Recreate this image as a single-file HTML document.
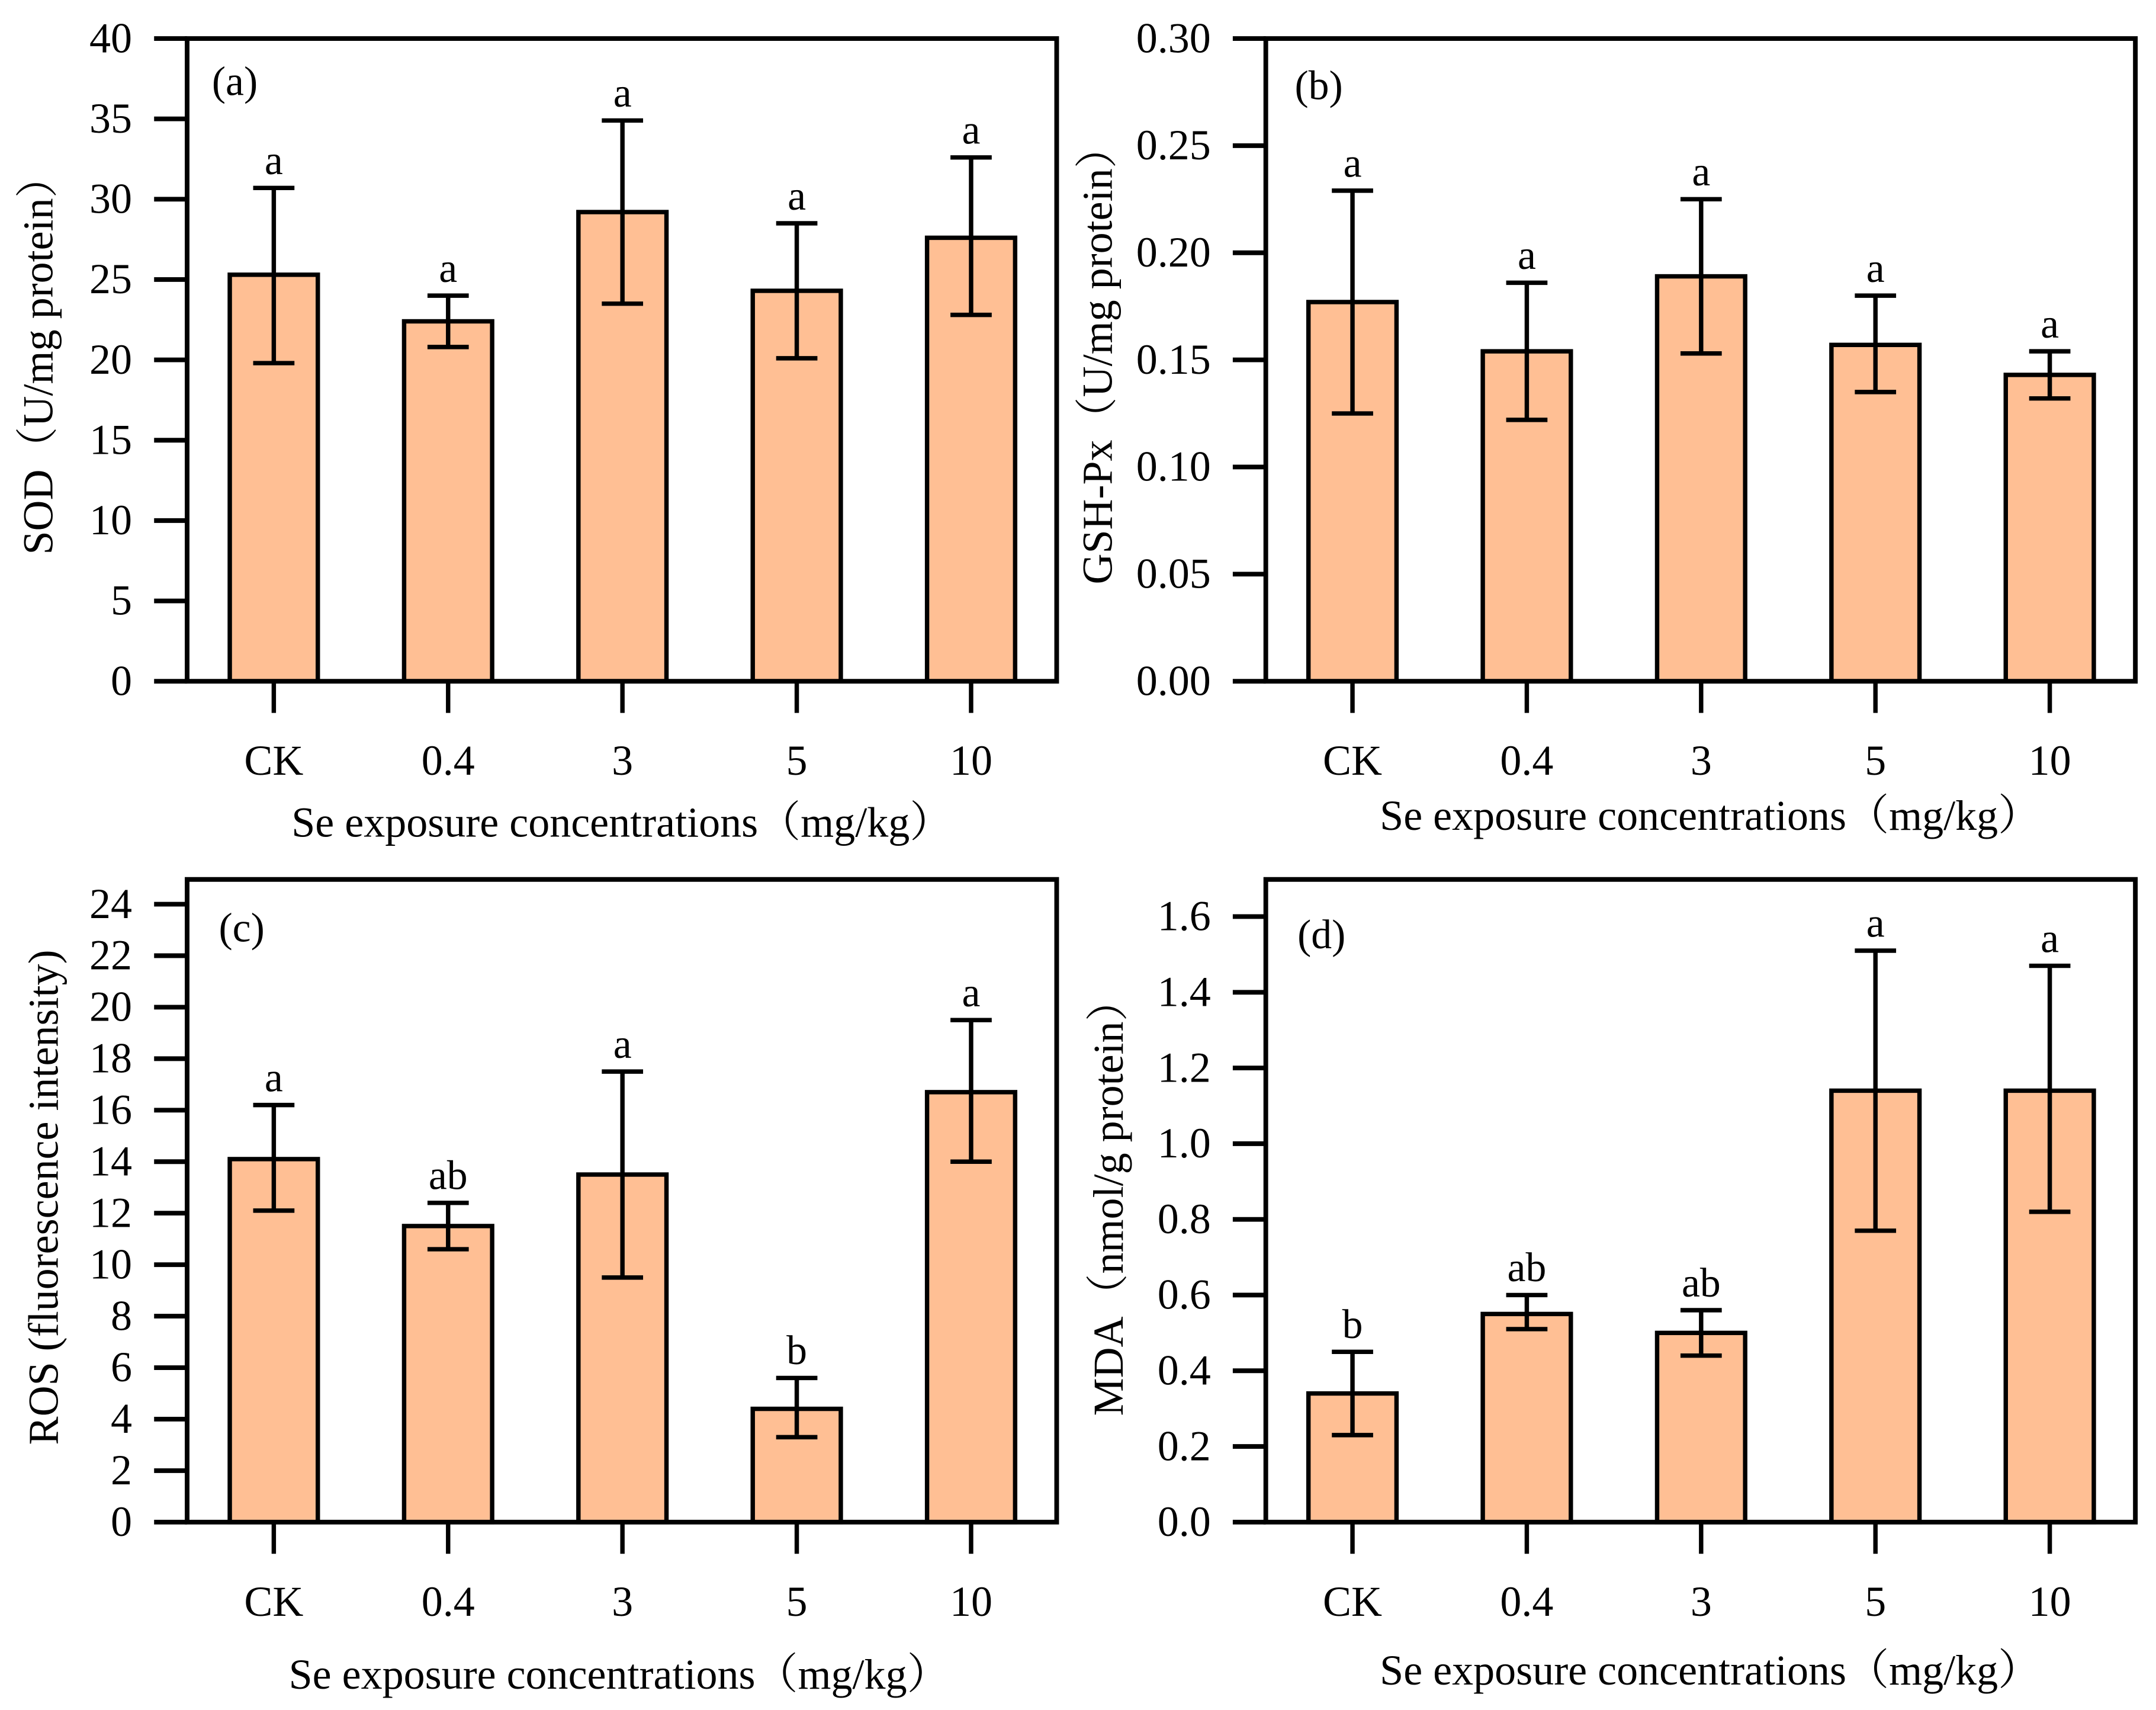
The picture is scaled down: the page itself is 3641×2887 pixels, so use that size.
<!DOCTYPE html>
<html><head><meta charset="utf-8"><style>
html,body{margin:0;padding:0;background:#fff;}
svg{display:block;}
text{font-family:"Liberation Serif","Noto Serif CJK SC",serif;fill:#000;}
</style></head><body>
<svg id="fig" width="3641" height="2887" viewBox="0 0 1567 1242.5" preserveAspectRatio="none" xmlns="http://www.w3.org/2000/svg"></svg>
<script>
const categories = ["CK","0.4","3","5","10"];
const sodMean = [25.3,22.4,29.2,24.3,27.6];
const sodUpper = [30.7,24.0,34.9,28.5,32.6];
const sodLower = [19.8,20.8,23.5,20.1,22.8];
const sodLetters = ["a","a","a","a","a"];
const sodTicks = ["0","5","10","15","20","25","30","35","40"];
const gshMean = [0.177,0.154,0.189,0.157,0.143];
const gshUpper = [0.229,0.186,0.225,0.180,0.154];
const gshLower = [0.125,0.122,0.153,0.135,0.132];
const gshLetters = ["a","a","a","a","a"];
const gshTicks = ["0.00","0.05","0.10","0.15","0.20","0.25","0.30"];
const rosMean = [14.1,11.5,13.5,4.4,16.7];
const rosUpper = [16.2,12.4,17.5,5.6,19.5];
const rosLower = [12.1,10.6,9.5,3.3,14.0];
const rosLetters = ["a","ab","a","b","a"];
const rosTicks = ["0","2","4","6","8","10","12","14","16","18","20","22","24"];
const mdaMean = [0.34,0.55,0.50,1.14,1.14];
const mdaUpper = [0.45,0.60,0.56,1.51,1.47];
const mdaLower = [0.23,0.51,0.44,0.77,0.82];
const mdaLetters = ["b","ab","ab","a","a"];
const mdaTicks = ["0.0","0.2","0.4","0.6","0.8","1.0","1.2","1.4","1.6"];

const NS="http://www.w3.org/2000/svg";
const svg=document.getElementById('fig');
function mk(tag,attrs,parent){const e=document.createElementNS(NS,tag);for(const k in attrs)e.setAttribute(k,attrs[k]);(parent||svg).appendChild(e);return e;}

function panel(cfg){
  const g=mk('g',{});
  
  
  const ax=cfg.axisX, right=cfg.right, top=cfg.top, bottom=cfg.bottom;
  const ymax=parseFloat(cfg.ticks[cfg.ticks.length-1]);
  const yScale=v=>bottom-(v/ymax)*(bottom-cfg.ymaxY);
  const xScale=i=>cfg.x0+i*cfg.step;
  categories.forEach((c,i)=>{
    const x=xScale(i), y=yScale(cfg.mean[i]);
    const b=mk('rect',{x:x-32,y:y,width:64,height:bottom-y,fill:'#FFBF94',stroke:'#000','stroke-width':3.2},g);
    
    
    const yu=yScale(cfg.upper[i]), yl=yScale(cfg.lower[i]);
    const eb=mk('path',{d:`M${x},${yu}V${yl}M${x-15},${yu}H${x+15}M${x-15},${yl}H${x+15}`,stroke:'#000','stroke-width':3.2,fill:'none'},g);
    
    
    const t=mk('text',{x:x,y:yu-10,'font-size':30,'text-anchor':'middle'},g);
    t.textContent=cfg.letters[i];
    
    
    const tk=mk('line',{x1:x,y1:bottom,x2:x,y2:bottom+23,stroke:'#000','stroke-width':3.2},g);
    
    
    const tl=mk('text',{x:x,y:cfg.xlabY,'font-size':31,'text-anchor':'middle'},g);
    tl.textContent=c;
    
    
  });
  const fr=mk('path',{d:`M${ax},${top}H${right}V${bottom}H${ax}Z`,fill:'none',stroke:'#000','stroke-width':3.4},g);
  
  
  cfg.ticks.forEach(t=>{
    const y=yScale(parseFloat(t));
    const l=mk('line',{x1:ax-24,y1:y,x2:ax,y2:y,stroke:'#000','stroke-width':3.4},g);
    
    
    const tx=mk('text',{x:ax-40,y:y+10,'font-size':31,'text-anchor':'end'},g);
    tx.textContent=t;
    
    
  });
  const pl=mk('text',{x:cfg.plX,y:cfg.plY,'font-size':30},g);
  pl.textContent=cfg.label;
  
  
  const xt=mk('text',{x:cfg.xtX,y:cfg.xtY,'font-size':31,'text-anchor':'middle'},g);
  xt.textContent='Se exposure concentrations（mg/kg）';
  
  
  const yt=mk('text',{x:0,y:0,'font-size':31,'text-anchor':'middle',transform:`translate(${cfg.ytX},${cfg.ytY}) rotate(-90)`},g);
  yt.textContent=cfg.ytitle;
  
  
}
panel({name:'panel-a-sod',mean:sodMean,upper:sodUpper,lower:sodLower,letters:sodLetters,ticks:sodTicks,
  axisX:136,right:768,top:28,bottom:495,ymaxY:28,x0:199,step:126.7,xlabY:563,label:'(a)',plX:154,plY:69,
  xtX:452,xtY:608,ytX:38,ytY:258,ytitle:'SOD（U/mg protein）'});
panel({name:'panel-b-gsh-px',mean:gshMean,upper:gshUpper,lower:gshLower,letters:gshLetters,ticks:gshTicks,
  axisX:920,right:1552,top:28,bottom:495,ymaxY:28,x0:983,step:126.7,xlabY:563,label:'(b)',plX:941,plY:72,
  xtX:1243,xtY:603,ytX:808,ytY:258,ytitle:'GSH-Px（U/mg protein）'});
panel({name:'panel-c-ros',mean:rosMean,upper:rosUpper,lower:rosLower,letters:rosLetters,ticks:rosTicks,
  axisX:136,right:768,top:639,bottom:1106,ymaxY:657,x0:199,step:126.7,xlabY:1174,label:'(c)',plX:159,plY:684,
  xtX:450,xtY:1227,ytX:42,ytY:870,ytitle:'ROS (fluorescence intensity)'});
panel({name:'panel-d-mda',mean:mdaMean,upper:mdaUpper,lower:mdaLower,letters:mdaLetters,ticks:mdaTicks,
  axisX:920,right:1552,top:639,bottom:1106,ymaxY:666,x0:983,step:126.7,xlabY:1174,label:'(d)',plX:943,plY:689,
  xtX:1243,xtY:1224,ytX:816,ytY:870,ytitle:'MDA（nmol/g protein）'});
</script>
</body></html>
